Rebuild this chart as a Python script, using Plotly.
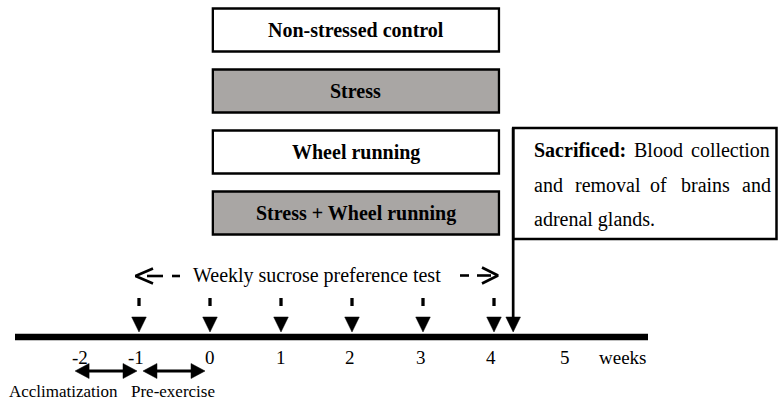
import plotly.graph_objects as go

# ---------------- data ----------------
weeks = [-2, -1, 0, 1, 2, 3, 4, 5]
week_labels = ["-2", "-1", "0", "1", "2", "3", "4", "5"]
week_label_x = [-1.83, -1.04, 0, 1, 1.97, 2.97, 3.96, 5.0]
test_weeks = [-1, 0, 1, 2, 3, 4]
sacrifice_week = 4.27
groups = ["Non-stressed control", "Stress", "Wheel running", "Stress + Wheel running"]
group_stressed = [False, True, False, True]
treatment_start, treatment_end = 0, 4
periods = ["Acclimatization", "Pre-exercise"]
period_start = [-2, -1]
period_end = [-1, 0]
period_label_x = [-2.06, -0.52]
sacrifice_lines = [
    ["<b>Sacrificed:</b>", "Blood", "collection"],
    ["and", "removal", "of", "brains", "and"],
    ["adrenal glands."],
]
sacrifice_word_px = [
    [533, 633, 690],
    [533, 574, 649, 680, 741],
    [533],
]

# ---------------- layout helpers ----------------
W, H = 778, 400
ORIGIN_PX, PX_PER_WEEK = 210, 71


def px(v):
    return (v - ORIGIN_PX) / PX_PER_WEEK


SERIF = "Liberation Serif"
GRAY = "#a9a6a4"
BAR_Y = 337

fig = go.Figure()
shapes = []
annotations = []

# group boxes
for i, (g, s) in enumerate(zip(groups, group_stressed)):
    yc = 30 + 61 * i
    shapes.append(dict(type="rect", xref="x", yref="y",
                       x0=treatment_start + 0.04, x1=treatment_end + 0.07,
                       y0=yc - 21.5, y1=yc + 21.5,
                       fillcolor=GRAY if s else "white",
                       line=dict(color="black", width=2.3), layer="below"))
    annotations.append(dict(x=(treatment_start + treatment_end + 0.11) / 2, y=yc,
                            xref="x", yref="y", text="<b>%s</b>" % g,
                            showarrow=False, xanchor="center", yanchor="middle",
                            font=dict(family=SERIF, size=20, color="black")))

# sacrifice box
shapes.append(dict(type="rect", xref="x", yref="y",
                   x0=sacrifice_week, x1=px(776.5), y0=128, y1=239,
                   fillcolor="white", line=dict(color="black", width=2.5)))
for line_words, line_px, yc in zip(sacrifice_lines, sacrifice_word_px, [150, 184.5, 219]):
    for wd, xp in zip(line_words, line_px):
        annotations.append(dict(x=px(xp - 1), y=yc, xref="x", yref="y", text=wd,
                                showarrow=False, xanchor="left", yanchor="middle",
                                font=dict(family=SERIF, size=20, color="black")))

# timeline bar
shapes.append(dict(type="line", xref="x", yref="y", x0=px(15), x1=px(648),
                   y0=BAR_Y, y1=BAR_Y, line=dict(color="black", width=6.5)))

# sacrifice vertical line
shapes.append(dict(type="line", xref="x", yref="y", x0=sacrifice_week, x1=sacrifice_week,
                   y0=128, y1=320, line=dict(color="black", width=2.7)))

# test dashes
for w in test_weeks:
    shapes.append(dict(type="line", xref="x", yref="y", x0=w, x1=w, y0=298, y1=306,
                       line=dict(color="black", width=3.3)))

# down triangles (tests + sacrifice)
hw = 7.3 / PX_PER_WEEK
tx, ty = [], []
for w in test_weeks + [sacrifice_week]:
    tx += [w - hw, w + hw, w, w - hw, None]
    ty += [317, 317, 332, 317, None]
fig.add_trace(go.Scatter(x=tx, y=ty, mode="lines", fill="toself", fillcolor="black",
                         line=dict(color="black", width=0.5), hoverinfo="skip",
                         showlegend=False))

# period double arrows
ay = 371
ah_len = 14 / PX_PER_WEEK
hx, hy = [], []
for s, e, inset_l, inset_r in zip(period_start, period_end, [0.1, 0.056], [0.028, 0.07]):
    a, b = s + inset_l, e - inset_r
    shapes.append(dict(type="line", xref="x", yref="y", x0=a + ah_len * 0.5, x1=b - ah_len * 0.5,
                       y0=ay, y1=ay, line=dict(color="black", width=3)))
    hx += [a, a + ah_len, a + ah_len, a, None, b, b - ah_len, b - ah_len, b, None]
    hy += [ay, ay - 7.5, ay + 7.5, ay, None, ay, ay - 7.5, ay + 7.5, ay, None]
fig.add_trace(go.Scatter(x=hx, y=hy, mode="lines", fill="toself", fillcolor="black",
                         line=dict(color="black", width=0.5), hoverinfo="skip",
                         showlegend=False))

# dashed "<- -" and "- ->" around weekly test label
dash_style = dict(color="black", width=2.6)
lx = [px(153), px(135.5), px(153), None, px(147), px(163), None, px(172), px(180), None,
      px(460), px(469), None, px(477), px(491), None, px(482), px(498), px(482)]
ly = [268.5, 276, 283.5, None, 276, 276, None, 276, 276, None,
      275.5, 275.5, None, 275.5, 275.5, None, 267.5, 275.5, 283.5]
fig.add_trace(go.Scatter(x=lx, y=ly, mode="lines", line=dash_style, hoverinfo="skip",
                         showlegend=False))

annotations.append(dict(x=px(191), y=275, xref="x", yref="y",
                        text="Weekly sucrose preference test", showarrow=False,
                        xanchor="left", yanchor="middle",
                        font=dict(family=SERIF, size=20, color="black")))

# week labels
for lab, xv in zip(week_labels, week_label_x):
    annotations.append(dict(x=xv, y=357.5, xref="x", yref="y", text=lab, showarrow=False,
                            xanchor="center", yanchor="middle",
                            font=dict(family=SERIF, size=19, color="black")))
annotations.append(dict(x=px(622), y=357.5, xref="x", yref="y", text="weeks",
                        showarrow=False, xanchor="center", yanchor="middle",
                        font=dict(family=SERIF, size=19, color="black")))

# period labels
for lab, xv in zip(periods, period_label_x):
    annotations.append(dict(x=xv, y=391, xref="x", yref="y", text=lab, showarrow=False,
                            xanchor="center", yanchor="middle",
                            font=dict(family=SERIF, size=17, color="black")))

fig.update_layout(
    width=W, height=H, autosize=False,
    margin=dict(l=0, r=0, t=0, b=0),
    paper_bgcolor="white", plot_bgcolor="white",
    xaxis=dict(range=[px(0), px(W)], visible=False, fixedrange=True),
    yaxis=dict(range=[H, 0], visible=False, fixedrange=True),
    shapes=shapes, annotations=annotations, showlegend=False,
)

fig.write_html("out.html", config={"displayModeBar": False},
               post_script="document.body.style.margin='0px';document.body.style.overflow='hidden';")
